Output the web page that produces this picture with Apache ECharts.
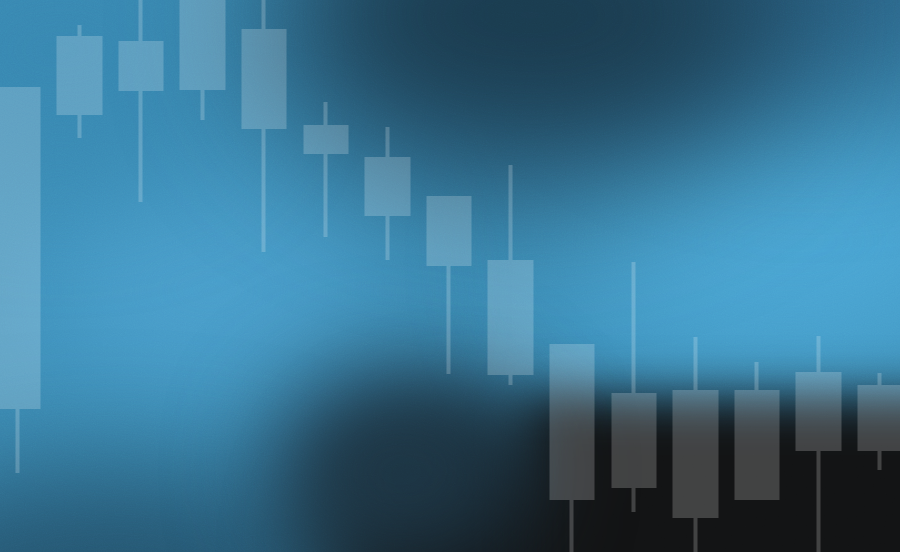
<!DOCTYPE html>
<html>
<head>
<meta charset="utf-8">
<script src="https://cdn.jsdelivr.net/npm/echarts@6/dist/echarts.min.js"></script>
<style>
  html, body { margin: 0; padding: 0; width: 900px; height: 552px; overflow: hidden; background: #3d8eb8; }
  #stage { position: absolute; left: 0; top: 0; width: 900px; height: 552px; overflow: hidden; background: #3d8eb8; }
  .blob { position: absolute; border-radius: 50%; }
  #grain { position: absolute; left: 0; top: 0; width: 900px; height: 552px; opacity: 0.10; mix-blend-mode: overlay;
    background-image: url("data:image/svg+xml;utf8,<svg xmlns='http://www.w3.org/2000/svg' width='900' height='552'><filter id='n'><feTurbulence type='fractalNoise' baseFrequency='0.9' numOctaves='2' stitchTiles='stitch'/><feColorMatrix type='saturate' values='0'/></filter><rect width='100%' height='100%' filter='url(%23n)'/></svg>"); }
  #chart { position: absolute; left: -13px; top: 0; width: 924px; height: 552px; opacity: 0.2; filter: blur(0.6px); }
</style>
</head>
<body>
<div id="stage">
  <!-- background light/dark blobs -->
  <div class="blob" style="left:560px; top:100px; width:460px; height:280px; background:#4ba6d4; filter:blur(70px);"></div>
  <div class="blob" style="left:40px; top:180px; width:340px; height:220px; background:#4a9ecb; filter:blur(60px);"></div>
  <div class="blob" style="left:-120px; top:-80px; width:360px; height:260px; background:#3887b1; filter:blur(60px);"></div>
  <div class="blob" style="left:600px; top:-160px; width:420px; height:260px; background:#2a6386; filter:blur(70px);"></div>
  <div class="blob" style="left:270px; top:-150px; width:520px; height:330px; background:#1a3a4d; filter:blur(75px);"></div>
  <div class="blob" style="left:-150px; top:470px; width:520px; height:220px; background:#24536d; filter:blur(60px);"></div>
  <div class="blob" style="left:320px; top:410px; width:300px; height:280px; background:#111315; filter:blur(45px);"></div>
  <div class="blob" style="left:520px; top:395px; width:520px; height:260px; border-radius:10%; background:#121314; filter:blur(25px);"></div>
  <div class="blob" style="left:270px; top:370px; width:260px; height:200px; background:#1d3544; filter:blur(50px);"></div>
  <div id="grain"></div>
  <div id="chart"></div>
</div>
<script>
// Categories (sessions) and OHLC values (value units on a 0–552 scale)
var categories = ['1','2','3','4','5','6','7','8','9','10','11','12','13','14','15'];
var openValues  = [463, 514, 509, 572, 521, 425, 393, 354, 290, 206, 157, 160, 160, 178, 165];
var closeValues = [145, 439, 463, 464, 425, 400, 338, 288, 179,  54,  66,  36,  54, 103, 103];
var lowValues   = [ 79, 414, 350, 432, 300, 315, 292, 178, 167, -20,  40, -20,  54, -20,  82];
var highValues  = [463, 527, 570, 600, 580, 450, 425, 354, 387, 206, 290, 215, 190, 216, 179];

var ohlc = categories.map(function (c, i) {
  return [openValues[i], closeValues[i], lowValues[i], highValues[i]];
});

var chart = echarts.init(document.getElementById('chart'), null, { renderer: 'canvas' });
chart.setOption({
  animation: false,
  backgroundColor: 'transparent',
  grid: { left: 0, right: 0, top: 0, bottom: 0, containLabel: false },
  xAxis: {
    type: 'category', data: categories, boundaryGap: true,
    axisLine: { show: false }, axisTick: { show: false }, axisLabel: { show: false }, splitLine: { show: false }
  },
  yAxis: {
    type: 'value', min: 0, max: 552,
    axisLine: { show: false }, axisTick: { show: false }, axisLabel: { show: false }, splitLine: { show: false }
  },
  series: [{
    type: 'candlestick',
    data: ohlc,
    barWidth: 42,
    clip: true,
    itemStyle: {
      color: '#ffffff', color0: '#ffffff',
      borderColor: '#ffffff', borderColor0: '#ffffff',
      borderWidth: 4
    }
  }]
});
</script>
</body>
</html>
